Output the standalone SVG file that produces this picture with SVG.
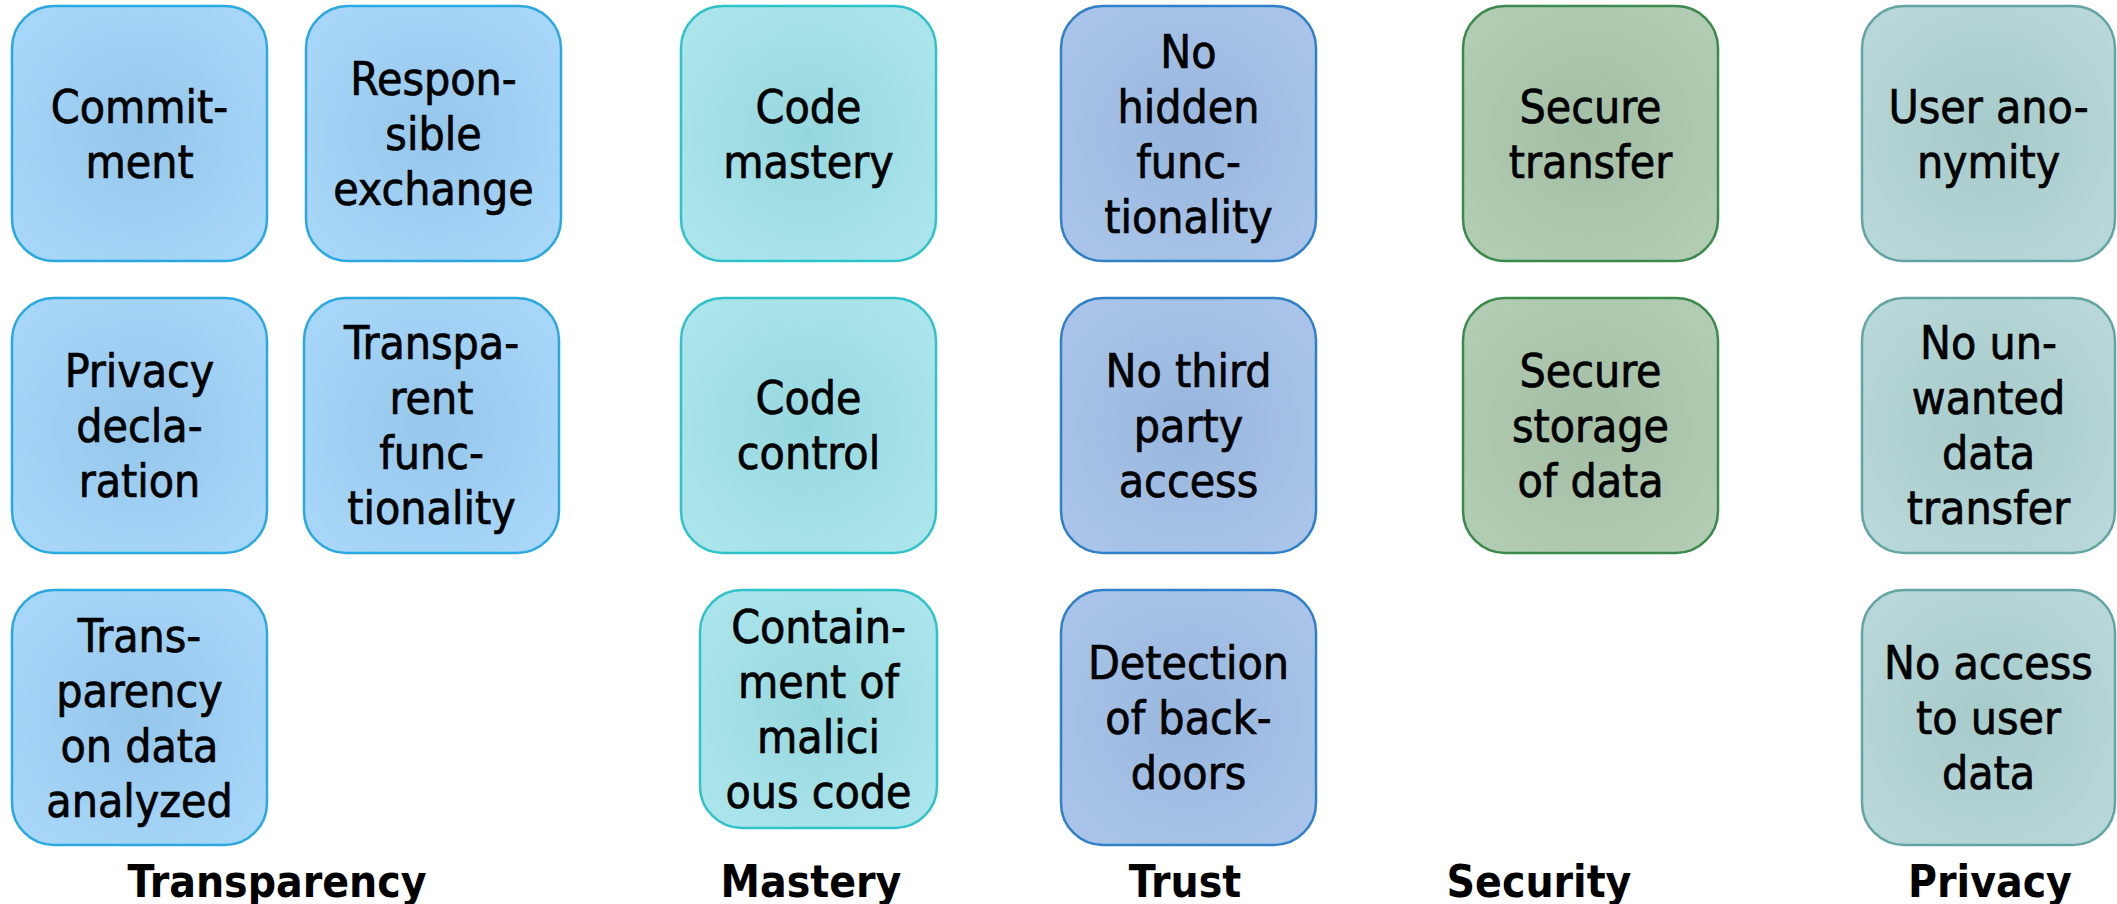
<svg xmlns="http://www.w3.org/2000/svg" width="2117" height="904" viewBox="0 0 2117 904">
  <defs>
    <radialGradient id="gT" cx="50%" cy="50%" r="60%">
      <stop offset="0" stop-color="#95c7eb"/>
      <stop offset="1" stop-color="#a7d6f8"/>
    </radialGradient>
    <radialGradient id="gM" cx="50%" cy="50%" r="60%">
      <stop offset="0" stop-color="#96d7de"/>
      <stop offset="1" stop-color="#abe5eb"/>
    </radialGradient>
    <radialGradient id="gR" cx="50%" cy="50%" r="60%">
      <stop offset="0" stop-color="#98b6de"/>
      <stop offset="1" stop-color="#a9c4e8"/>
    </radialGradient>
    <radialGradient id="gS" cx="50%" cy="50%" r="60%">
      <stop offset="0" stop-color="#a2bea4"/>
      <stop offset="1" stop-color="#b2ccb4"/>
    </radialGradient>
    <radialGradient id="gP" cx="50%" cy="50%" r="60%">
      <stop offset="0" stop-color="#a6caca"/>
      <stop offset="1" stop-color="#b8d7d8"/>
    </radialGradient>
  </defs>
  <style>
    .box { stroke-width: 2.5; }
    .t { fill: url(#gT); stroke: #2aa8e0; }
    .m { fill: url(#gM); stroke: #2fc2c8; }
    .r { fill: url(#gR); stroke: #2f80c6; }
    .s { fill: url(#gS); stroke: #3b8a4c; }
    .p { fill: url(#gP); stroke: #62a5a2; }
    text { font-family: "DejaVu Sans Condensed", "DejaVu Sans", sans-serif; font-stretch: condensed; fill: #000; text-anchor: middle; }
    .lbl { font-size: 46px; stroke: #000; stroke-width: 0.7px; }
    .cat { font-size: 44px; font-weight: bold; }
  </style>

  <!-- Transparency column -->
  <g id="commitment">
    <rect class="box t" x="12" y="6" width="255" height="255" rx="42"/>
    <text class="lbl" x="139.5" y="122.5"><tspan x="139.5">Commit-</tspan><tspan x="139.5" dy="55">ment</tspan></text>
  </g>
  <g id="responsible-exchange">
    <rect class="box t" x="306" y="6" width="255" height="255" rx="42"/>
    <text class="lbl" x="433.5" y="95"><tspan x="433.5">Respon-</tspan><tspan x="433.5" dy="55">sible</tspan><tspan x="433.5" dy="55">exchange</tspan></text>
  </g>
  <g id="privacy-declaration">
    <rect class="box t" x="12" y="298" width="255" height="255" rx="42"/>
    <text class="lbl" x="139.5" y="386.5"><tspan x="139.5">Privacy</tspan><tspan x="139.5" dy="55">decla-</tspan><tspan x="139.5" dy="55">ration</tspan></text>
  </g>
  <g id="transparent-functionality">
    <rect class="box t" x="304" y="298" width="255" height="255" rx="42"/>
    <text class="lbl" x="431.5" y="359"><tspan x="431.5">Transpa-</tspan><tspan x="431.5" dy="55">rent</tspan><tspan x="431.5" dy="55">func-</tspan><tspan x="431.5" dy="55">tionality</tspan></text>
  </g>
  <g id="transparency-data-analyzed">
    <rect class="box t" x="12" y="590" width="255" height="255" rx="42"/>
    <text class="lbl" x="139.5" y="651.5"><tspan x="139.5">Trans-</tspan><tspan x="139.5" dy="55">parency</tspan><tspan x="139.5" dy="55">on data</tspan><tspan x="139.5" dy="55">analyzed</tspan></text>
  </g>

  <!-- Mastery column -->
  <g id="code-mastery">
    <rect class="box m" x="681" y="6" width="255" height="255" rx="42"/>
    <text class="lbl" x="808.5" y="122.5"><tspan x="808.5">Code</tspan><tspan x="808.5" dy="55">mastery</tspan></text>
  </g>
  <g id="code-control">
    <rect class="box m" x="681" y="298" width="255" height="255" rx="42"/>
    <text class="lbl" x="808.5" y="414"><tspan x="808.5">Code</tspan><tspan x="808.5" dy="55">control</tspan></text>
  </g>
  <g id="containment">
    <rect class="box m" x="700" y="590" width="237" height="238" rx="42"/>
    <text class="lbl" x="818.5" y="642.5"><tspan x="818.5">Contain-</tspan><tspan x="818.5" dy="55">ment of</tspan><tspan x="818.5" dy="55">malici</tspan><tspan x="818.5" dy="55">ous code</tspan></text>
  </g>

  <!-- Trust column -->
  <g id="no-hidden-functionality">
    <rect class="box r" x="1061" y="6" width="255" height="255" rx="42"/>
    <text class="lbl" x="1188.5" y="67.5"><tspan x="1188.5">No</tspan><tspan x="1188.5" dy="55">hidden</tspan><tspan x="1188.5" dy="55">func-</tspan><tspan x="1188.5" dy="55">tionality</tspan></text>
  </g>
  <g id="no-third-party-access">
    <rect class="box r" x="1061" y="298" width="255" height="255" rx="42"/>
    <text class="lbl" x="1188.5" y="386.5"><tspan x="1188.5">No third</tspan><tspan x="1188.5" dy="55">party</tspan><tspan x="1188.5" dy="55">access</tspan></text>
  </g>
  <g id="detection-backdoors">
    <rect class="box r" x="1061" y="590" width="255" height="255" rx="42"/>
    <text class="lbl" x="1188.5" y="679"><tspan x="1188.5">Detection</tspan><tspan x="1188.5" dy="55">of back-</tspan><tspan x="1188.5" dy="55">doors</tspan></text>
  </g>

  <!-- Security column -->
  <g id="secure-transfer">
    <rect class="box s" x="1463" y="6" width="255" height="255" rx="42"/>
    <text class="lbl" x="1590.5" y="122.5"><tspan x="1590.5">Secure</tspan><tspan x="1590.5" dy="55">transfer</tspan></text>
  </g>
  <g id="secure-storage">
    <rect class="box s" x="1463" y="298" width="255" height="255" rx="42"/>
    <text class="lbl" x="1590.5" y="386.5"><tspan x="1590.5">Secure</tspan><tspan x="1590.5" dy="55">storage</tspan><tspan x="1590.5" dy="55">of data</tspan></text>
  </g>

  <!-- Privacy column -->
  <g id="user-anonymity">
    <rect class="box p" x="1862" y="6" width="253" height="255" rx="42"/>
    <text class="lbl" x="1988.5" y="122.5"><tspan x="1988.5">User ano-</tspan><tspan x="1988.5" dy="55">nymity</tspan></text>
  </g>
  <g id="no-unwanted-transfer">
    <rect class="box p" x="1862" y="298" width="253" height="255" rx="42"/>
    <text class="lbl" x="1988.5" y="359"><tspan x="1988.5">No un-</tspan><tspan x="1988.5" dy="55">wanted</tspan><tspan x="1988.5" dy="55">data</tspan><tspan x="1988.5" dy="55">transfer</tspan></text>
  </g>
  <g id="no-access-user-data">
    <rect class="box p" x="1862" y="590" width="253" height="255" rx="42"/>
    <text class="lbl" x="1988.5" y="679"><tspan x="1988.5">No access</tspan><tspan x="1988.5" dy="55">to user</tspan><tspan x="1988.5" dy="55">data</tspan></text>
  </g>

  <!-- column headings -->
  <g id="categories">
    <text class="cat" x="277" y="897">Transparency</text>
    <text class="cat" x="811" y="897">Mastery</text>
    <text class="cat" x="1185" y="897">Trust</text>
    <text class="cat" x="1539" y="897">Security</text>
    <text class="cat" x="1990" y="897">Privacy</text>
  </g>

  <!-- no connectors in this figure -->
  <g id="connectors"/>
</svg>
